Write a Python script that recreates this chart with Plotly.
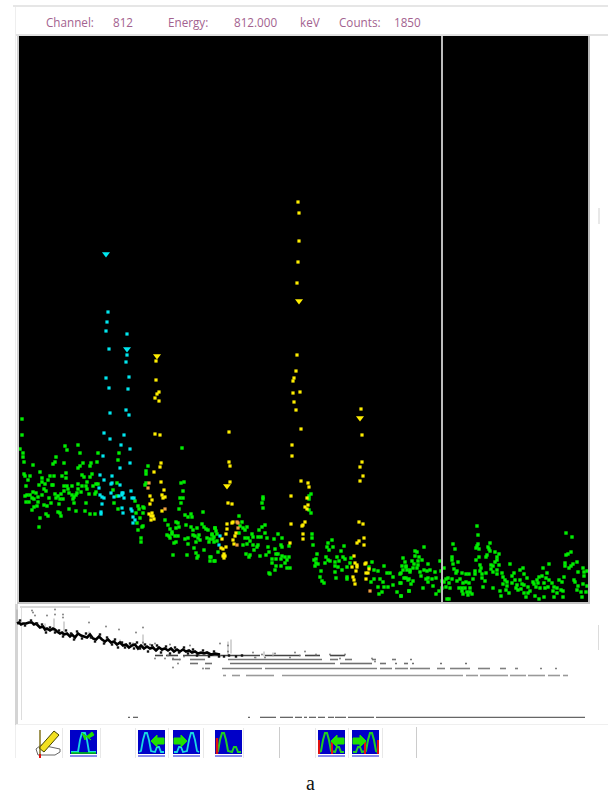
import plotly.graph_objects as go

# Spectrum points: (channel position, counts height)
green_points = [(22,183),(22,167),(20,153),(23,149),(23,145),(24,140),(33,137),(24,128),(25,126),(30,126),(28,122),(40,130),(26,116),(33,110),(36,109),(25,106),(27,107),(30,107),(32,104),(34,103),(38,105),(42,107),(26,100),(29,100),(38,100),(37,96),(34,95),(32,92),(44,97),(47,96),(40,84),(46,88),(48,86),(39,75),(51,99),(49,104),(56,104),(55,108),(58,106),(60,103),(63,103),(59,98),(61,108),(58,90),(60,89),(61,86),(69,93),(76,91),(85,91),(90,88),(95,88),(86,99),(42,120),(45,118),(39,117),(42,124),(48,122),(50,126),(54,126),(62,126),(66,129),(66,124),(52,117),(53,117),(44,113),(46,111),(64,116),(67,116),(72,116),(78,118),(82,116),(86,116),(87,120),(92,128),(90,125),(84,125),(82,127),(96,118),(98,118),(93,116),(89,108),(95,108),(96,110),(87,113),(81,110),(77,109),(78,113),(68,113),(64,111),(72,107),(74,105),(76,107),(69,109),(73,103),(74,99),(65,156),(78,157),(67,152),(80,149),(98,149),(119,149),(56,145),(55,140),(53,138),(64,139),(83,139),(91,139),(97,140),(80,136),(78,134),(90,136),(118,142),(182,154),(148,136),(146,131),(146,128),(146,119),(145,117),(117,119),(113,112),(117,106),(114,99),(118,93),(135,101),(138,96),(143,95),(144,94),(139,93),(143,89),(140,84),(137,79),(143,76),(142,75),(138,72),(141,64),(141,60),(136,89),(181,119),(184,120),(183,111),(180,104),(183,104),(181,99),(179,93),(185,87),(188,85),(191,88),(192,85),(203,90),(165,82),(168,77),(170,73),(172,70),(176,74),(176,80),(178,79),(179,75),(186,77),(191,75),(193,72),(197,74),(202,78),(204,75),(206,73),(208,72),(215,74),(167,67),(169,66),(172,68),(175,66),(178,66),(170,64),(174,59),(176,60),(185,63),(188,64),(193,67),(195,66),(199,67),(200,62),(196,60),(198,64),(207,64),(209,60),(212,68),(213,63),(214,60),(188,58),(194,54),(204,52),(173,47),(187,47),(196,49),(198,46),(197,44),(210,45),(210,41),(214,41),
(239,86),(242,80),(247,75),(240,76),(243,74),(239,69),(245,72),(215,74),(216,71),(217,68),(212,67),(214,65),(217,61),(210,63),(218,50),(211,45),(215,41),(263,105),(263,103),(262,99),(263,94),(265,77),(262,75),(259,72),(265,69),(278,68),(282,64),(252,68),(245,64),(248,64),(253,65),(258,65),(261,65),(267,64),(274,63),(250,61),(247,58),(253,57),(258,57),(257,55),(243,57),(254,52),(246,48),(250,47),(249,45),(260,46),(268,55),(281,57),(282,55),(289,56),(275,53),(269,50),(276,48),(278,48),(282,46),(285,45),(287,42),(289,45),(266,47),(272,43),(276,43),(281,43),(285,39),(272,39),(276,36),(281,36),(287,34),(290,34),(275,32),(269,29),(270,28),(311,108),(309,106),(309,103),(309,92),(311,89),(312,68),(312,64),(313,57),(317,48),(316,43),(314,42),(316,39),(315,36),(318,38),(321,31),(320,25),(322,21),(324,19),(328,59),(332,62),(327,55),(329,52),(333,55),(344,56),(341,51),(337,45),(326,45),(328,42),(325,39),(330,41),(335,40),(339,41),(343,45),(345,43),(351,44),(335,36),(338,35),(342,32),(347,35),(350,39),(335,30),(336,24),(347,25),(347,23),(372,40),(369,35),(374,32),(378,31),(384,36),(387,29),(371,20),(374,23),(380,23),(383,20),(378,15),(382,10),(379,8),(384,15),(388,15),(393,17),(397,10),(401,6),(390,29),(393,25),(400,28),(403,44),(405,40),(402,36),(406,35),(410,30),(404,24),(408,22),(400,19),(409,11),
(415,51),(417,50),(424,55),(415,46),(419,45),(422,42),(412,41),(414,38),(418,41),(418,37),(406,36),(413,34),(417,34),(410,32),(407,32),(403,32),(401,29),(420,30),(424,32),(427,31),(428,38),(430,32),(435,30),(421,26),(426,23),(428,24),(432,23),(436,24),(406,24),(409,23),(413,21),(411,18),(401,19),(428,20),(433,16),(423,14),(409,11),(401,6),(436,8),(439,11),(442,14),(440,41),(441,31),(444,34),(448,24),(452,23),(446,23),(444,20),(449,19),(446,15),(450,14),(442,21),(447,3),(449,3),(453,58),(455,53),(452,45),(452,42),(453,38),(458,40),(454,33),(457,31),(456,29),(462,29),(466,28),(469,28),(475,31),(475,28),(473,23),(469,19),(466,20),(460,23),(457,21),(463,19),(459,14),(462,14),(465,14),(470,14),(462,11),(467,10),(470,10),(472,8),(463,8),(468,7),(477,76),(478,67),(478,58),(477,56),(479,53),(476,54),(479,45),(476,42),(480,37),(481,34),(480,31),(482,28),(486,29),(482,24),(485,21),(483,15),(490,59),(488,55),(489,53),(490,51),(487,47),(486,45),(495,50),(499,48),(497,45),(497,42),(495,40),(499,37),(491,37),(493,36),(491,33),(493,30),(497,32),(497,28),(493,14),(502,29),(503,25),(505,22),(507,20),(503,18),(507,16),(500,11),(506,12),(510,38),(509,9),(501,6),(512,26),(514,29),(512,19),(515,22),(517,17),(518,12),(516,14),(520,32),(523,34),(524,28),(520,22),(522,18),(524,17),(527,24),(521,13),(524,9),(528,15),(526,5),(530,11),(528,9),(533,20),(537,22),(534,18),(538,19),(536,15),(539,25),(543,34),(542,26),(547,29),(549,38),(546,24),(544,19),(549,22),(540,14),(545,14),(548,15),(535,6),(539,3),(544,5),(552,19),(554,15),(557,14),(553,11),(557,9),(554,5),(561,12),(563,5),(559,22),(562,20),(564,25),(566,69),(572,65),(571,50),(568,48),(566,47),(565,39),(565,36),(569,34),(571,36),(573,38),(577,40),(578,30),(583,34),(584,30),(584,26),(587,31),(574,22),(575,20),(578,16),(583,18),(587,16),(577,12),(581,10),(586,10),(582,5),(563,11)]

cyan_points = [(126,192),(110,189),(129,187),(104,169),(124,167),(110,163),(121,157),(130,153),(103,146),(130,139),(120,134),(100,127),(112,126),(104,122),(111,118),(112,119),(120,117),(99,114),(131,111),(111,109),(122,109),(123,109),(100,107),(102,105),(104,104),(114,105),(119,106),(122,107),(124,104),(132,104),(134,104),(102,98),(122,94),(131,93),(132,91),(123,89),(101,90),(101,88),(133,85),(135,82),(133,79),(108,290),(107,280),(106,271),(127,268),(109,253),(127,247),(126,240),(106,224),(129,225),(109,214),(128,213),(220,66),(219,57)]
cyan_peaks = [(106,348),(127,253)]

yellow_points = [(159,201),(155,168),(160,167),(161,139),(160,135),(154,130),(161,120),(164,112),(150,106),(162,107),(163,104),(165,105),(152,102),(150,98),(162,91),(149,88),(152,89),(151,86),(153,86),(154,83),(151,82),(298,400),(299,389),(299,361),(298,340),(297,319),(297,247),(296,231),(294,224),(293,221),(293,209),(300,210),(294,200),(296,192),(156,241),(156,222),(159,210),(157,208),(155,204),(361,193),(229,170),(301,173),(292,157),(292,146),(362,167),(229,140),(230,136),(362,140),(360,135),(230,120),(301,121),(308,119),(309,115),(363,126),(360,121),(291,106),(307,104),(228,99),(232,98),(308,97),(305,95),(307,93),(305,80),(291,78),(359,80),(363,78),(227,78),(232,79),(233,80),(303,77),(302,76),(227,73),(226,68),(236,69),(235,66),(222,63),(233,62),(234,58),(226,55),(221,54),(223,53),(303,68),(303,63),(290,59),(364,64),(359,61),(357,59),(364,57),(354,46),(224,48),(223,46),(225,46),(224,44),(355,39),(357,37),(357,35),(352,35),(365,38),(366,39),(366,29),(368,29),(369,33),(356,31),(353,25),(354,22),(366,23),(355,18)]
yellow_peaks = [(299,301),(157,246),(227,116),(360,184)]

orange_points = [(149,119),(148,114),(165,93),(237,80),(238,79),(238,74),(237,57),(370,11)]

cursor_channel = 442
channel_range = [19, 588]
counts_range = [0, 566]

# Overview spectrum (compressed view of the whole range)
overview_band = [(17,94),(19,95),(21,93),(23,94),(26,94),(29,95),(32,95),(34,93),(36,94),(38,92),(40,90),(43,91),(45,88),(47,89),(50,87),(53,89),(55,88),(57,86),(60,84),(62,85),(64,83),(67,84),(70,81),(72,83),(75,80),(78,84),(81,82),(84,81),(87,80),(90,83),(93,79),(96,78),(99,81),(102,78),(105,76),(108,78),(111,75),(114,76),(117,73),(120,75),(123,72),(126,73),(129,70),(132,72),(135,73),(138,69),(141,72),(144,69),(147,71),(150,69),(153,70),(156,67),(159,70),(162,68),(165,69),(168,67),(171,69),(174,66),(177,68),(180,66),(183,68),(186,66),(189,67),(192,65),(195,66),(198,64),(201,65),(204,64),(207,65),(211,63),(215,64),(220,63)]
overview_noise = [(20,97),(25,92),(31,97),(37,94),(42,93),(46,85),(50,90),(55,85),(59,87),(63,81),(66,87),(71,84),(74,78),(77,86),(82,79),(86,84),(91,80),(95,76),(100,83),(104,74),(107,80),(112,73),(115,78),(118,70),(122,75),(125,70),(130,74),(134,69),(137,75),(140,69),(145,73),(148,66),(152,72),(157,72),(161,65),(166,71),(170,64),(175,70),(179,65),(184,70),(188,64),(193,68),(197,62),(203,67),(209,61),(214,66),(219,61),(224,61),(229,62),(236,61),(242,62)]
overview_specks = [(32,107),(33,105),(35,102),(55,108),(55,103),(63,103),(63,100),(47,102),(89,95),(106,91),(119,88),(143,90),(136,85),(105,75),(133,74),(143,75),(150,73),(157,68),(162,67),(155,74),(168,62),(170,73),(184,61),(190,72),(155,59),(165,59),(173,59),(180,58),(178,54),(173,50),(203,49),(220,74),(228,72),(220,62),(228,66),(253,65),(262,63),(275,64),(255,60),(265,60),(290,60),(305,66),(316,63),(330,63),(345,63),(372,59),(375,56),(295,65),(300,62),(340,59)]
spike_channels = [17,31,33,54,45,64,89,120,143,163,231,228,256,264,273]
spike_tops = [108,97,93,99,94,96,86,78,83,70,78,76,59,66,65]
spike_bases = [95,95,92,88,87,84,80,73,69,68,64,63,61,61,61]

level_heights = [62, 58, 54, 49, 42, 0]
level_segments = [
    [(155,163),(166,178),(183,260),(265,300),(305,320),(330,345)],
    [(172,180),(190,205),(228,322),(330,338),(345,352),(372,376),(392,396),(410,412)],
    [(190,198),(205,212),(230,335),(340,372),(380,386),(395,397),(404,408),(412,414),(440,442),(465,467)],
    [(205,210),(222,262),(265,377),(380,392),(395,408),(410,430),(437,445),(450,470),(478,490),(500,506),(515,518),(540,542),(555,557)],
    [(223,226),(232,240),(246,274),(282,463),(466,478),(480,508),(510,526),(528,545),(548,560),(563,568)],
    [(128,130),(133,138),(248,250),(260,276),(280,293),(295,302),(304,307),(309,316),(318,325),(328,334),(335,346),(348,374),(376,585)],
]
level_greys = ["#444444", "#777777", "#707070", "#808080", "#999999", "#666666"]

readout_labels = ["Channel:", "812", "Energy:", "812.000", "keV", "Counts:", "1850"]
readout_left = [44, 111, 166, 232, 298, 337, 392]
caption = "a"

W, H = 608, 793


def xs(pts):
    return [p[0] for p in pts]


def ys(pts):
    return [p[1] for p in pts]


fig = go.Figure()
dot = dict(mode="markers", xaxis="x", yaxis="y", hoverinfo="skip", showlegend=False)
fig.add_trace(go.Scatter(x=xs(green_points), y=ys(green_points), marker=dict(color="#00ee00", size=3.4, symbol="square"), **dot))
fig.add_trace(go.Scatter(x=xs(cyan_points), y=ys(cyan_points), marker=dict(color="#00e8f0", size=3.2, symbol="square"), **dot))
fig.add_trace(go.Scatter(x=xs(yellow_points), y=ys(yellow_points), marker=dict(color="#ffee00", size=3.2, symbol="square"), **dot))
fig.add_trace(go.Scatter(x=xs(orange_points), y=ys(orange_points), marker=dict(color="#f0a040", size=3.2, symbol="square"), **dot))
fig.add_trace(go.Scatter(x=xs(cyan_peaks), y=ys(cyan_peaks), marker=dict(color="#00e8f0", size=7, symbol="triangle-down"), **dot))
fig.add_trace(go.Scatter(x=xs(yellow_peaks), y=ys(yellow_peaks), marker=dict(color="#ffee00", size=7, symbol="triangle-down"), **dot))
fig.add_trace(go.Scatter(x=[cursor_channel, cursor_channel], y=counts_range, mode="lines", line=dict(color="#bcbcbc", width=2),
                         hoverinfo="skip", showlegend=False))

# overview panel
ov = dict(xaxis="x2", yaxis="y2", hoverinfo="skip", showlegend=False)
for h, segs, grey in zip(level_heights, level_segments, level_greys):
    lx, ly = [], []
    for a, b in segs:
        lx += [a, b, None]
        ly += [h, h, None]
    fig.add_trace(go.Scatter(x=lx, y=ly, mode="lines", line=dict(color=grey, width=1.6), **ov))
sx, sy = [], []
for c, t, b in zip(spike_channels, spike_tops, spike_bases):
    sx += [c, c, None]
    sy += [b, t, None]
fig.add_trace(go.Scatter(x=sx, y=sy, mode="lines", line=dict(color="#aaaaaa", width=1), **ov))
fig.add_trace(go.Scatter(x=xs(overview_specks), y=ys(overview_specks), mode="markers", marker=dict(color="#777777", size=1.8), **ov))
fig.add_trace(go.Scatter(x=xs(overview_band), y=ys(overview_band), mode="lines", line=dict(color="#000000", width=2.6), **ov))
fig.add_trace(go.Scatter(x=xs(overview_noise), y=ys(overview_noise), mode="markers", marker=dict(color="#111111", size=2.4, symbol="square"), **ov))

shapes = []


def rect(x0, y0, x1, y1, fill):
    shapes.append(dict(type="rect", xref="paper", yref="paper", x0=x0 / W, y0=1 - y0 / H, x1=x1 / W, y1=1 - y1 / H,
                       fillcolor=fill, line=dict(width=0), layer="below"))


def irect(x0, y0, x1, y1, fill):
    shapes.append(dict(type="rect", xref="x3", yref="y3", x0=x0, y0=y0, x1=x1, y1=y1,
                       fillcolor=fill, line=dict(width=0), layer="above"))


def path(d, color, width=1.5, fill=None):
    s = dict(type="path", xref="x3", yref="y3", path=d, line=dict(color=color, width=width), layer="above")
    if fill:
        s["fillcolor"] = fill
    shapes.append(s)


def poly(ox, oy, pts, close=False):
    d = " ".join(("M" if i == 0 else "L") + f"{ox+x},{oy+y}" for i, (x, y) in enumerate(pts))
    return d + (" Z" if close else "")


# window chrome
rect(19, 36, 588, 602, "#000000")
rect(13, 5, 608, 7, "#e6e6e6")
rect(15, 7, 16, 758, "#eeeeee")
rect(16, 34, 608, 36, "#e2e2e2")
rect(17, 36, 19, 603, "#d0d0d0")
rect(588, 36, 590, 603, "#b8b8b8")
rect(17, 602, 590, 604, "#c4c4c4")
rect(15, 604, 18, 725, "#d4d4d4")
rect(20, 606, 90, 608, "#d8d8d8")
rect(21, 608, 22, 720, "#dddddd")
rect(16, 724, 608, 725, "#efefef")
rect(598, 208, 600, 224, "#e8e8e8")
rect(598, 625, 599, 650, "#dcdcdc")
for sep in [279, 416]:
    rect(sep, 727, sep + 1, 758, "#cccccc")
for sep in [62, 100, 135, 168, 203, 243, 315, 348, 382]:
    rect(sep, 728, sep + 1, 758, "#e8e8e8")

# toolbar icons
PEAK_L = [(1, 22), (3, 21), (5, 10), (7, 3), (9, 3), (11, 10), (13, 21), (17, 22), (19, 17), (21, 17), (23, 22), (26, 22)]
PEAK_R = [(1, 22), (4, 22), (6, 17), (8, 17), (10, 22), (14, 21), (16, 10), (18, 3), (20, 3), (22, 10), (24, 21), (26, 22)]
ARROW_L = [(13, 11), (19, 5), (19, 8), (26, 8), (26, 14), (19, 14), (19, 17)]
ARROW_R = [(14, 11), (8, 5), (8, 8), (1, 8), (1, 14), (8, 14), (8, 17)]
for ox in [70, 138, 173, 215, 318, 352]:
    irect(ox, 730, ox + 27, 754, "#0000c8")
    irect(ox, 755, ox + 27, 757, "#8a8aee")
# icon 2: peak and arrow
path(poly(70, 730, [(1, 22), (8, 22), (10, 10), (12, 3), (15, 3), (17, 10), (19, 22), (26, 22)]), "#19d8e0", 1.8)
path(poly(70, 730, [(1, 23), (26, 23)]), "#00d000", 1.5)
path(poly(70, 730, [(12, 3), (15, 10), (16, 7), (22, 2), (24, 5), (19, 8), (21, 10)], True), "#20e000", 1, "#20e000")
# icon 3 / 4: arrows towards peak
path(poly(138, 730, PEAK_L), "#19d8e0", 1.8)
path(poly(138, 730, ARROW_L, True), "#20e000", 1, "#20e000")
path(poly(173, 730, PEAK_R), "#19d8e0", 1.8)
path(poly(173, 730, ARROW_R, True), "#20e000", 1, "#20e000")
# icon 5: fitted peak
path(poly(215, 730, PEAK_L), "#20d020", 2)
path(poly(215, 730, [(2, 8), (2, 24)]), "#e01010", 2.4)
# icon 6 / 7: fitted peak with boundaries
path(poly(318, 730, PEAK_L), "#20d020", 2)
path(poly(318, 730, [(1, 10), (1, 24)]), "#e01010", 2)
path(poly(318, 730, [(14, 11), (14, 24)]), "#e01010", 2)
path(poly(318, 730, ARROW_L, True), "#20e000", 1, "#20e000")
path(poly(352, 730, PEAK_R), "#20d020", 2)
path(poly(352, 730, [(26, 10), (26, 24)]), "#e01010", 2)
path(poly(352, 730, [(13, 11), (13, 24)]), "#e01010", 2)
path(poly(352, 730, ARROW_R, True), "#20e000", 1, "#20e000")
# icon 1: pencil and ruler
path(poly(35, 730, [(1, 19), (6, 15), (25, 19), (25, 22), (20, 25), (3, 25)], True), "#666666", 1, "#ffffff")
path(poly(35, 730, [(4, 18), (19, 1), (24, 5), (9, 22)], True), "#444400", 1, "#f2e020")
path(poly(35, 730, [(5, 0), (5, 25)]), "#7a6a10", 1.4)
path(poly(35, 730, [(5, 24), (5, 28)]), "#e01010", 2)

annotations = []
for label, left in zip(readout_labels, readout_left):
    annotations.append(dict(text=label, x=left, y=22, xref="x3", yref="y3", xanchor="left", yanchor="middle",
                            showarrow=False, font=dict(family="Open Sans", size=11.7, color="#a3628f")))
annotations.append(dict(text=caption, x=310, y=783, xref="x3", yref="y3", xanchor="center", yanchor="middle",
                        showarrow=False, font=dict(family="Liberation Serif", size=20, color="#111111")))

hidden = dict(visible=False, fixedrange=True)
fig.update_layout(
    width=W, height=H, margin=dict(l=0, r=0, t=0, b=0), autosize=False,
    paper_bgcolor="#ffffff", plot_bgcolor="rgba(0,0,0,0)", showlegend=False,
    xaxis=dict(domain=[19 / W, 588 / W], range=channel_range, **hidden),
    yaxis=dict(domain=[1 - 602 / H, 1 - 36 / H], range=counts_range, **hidden),
    xaxis2=dict(domain=[0, 588 / W], range=[0, 588], anchor="y2", **hidden),
    yaxis2=dict(domain=[1 - 718 / H, 1 - 608 / H], range=[-0.5, 109.5], anchor="x2", **hidden),
    xaxis3=dict(domain=[0, 1], range=[0, W], anchor="y3", **hidden),
    yaxis3=dict(domain=[0, 1], range=[H, 0], anchor="x3", **hidden),
    shapes=shapes, annotations=annotations,
)
fig.write_html("out.html", config={"displayModeBar": False},
               post_script="document.body.style.margin='0';document.body.style.background='#fff';")
